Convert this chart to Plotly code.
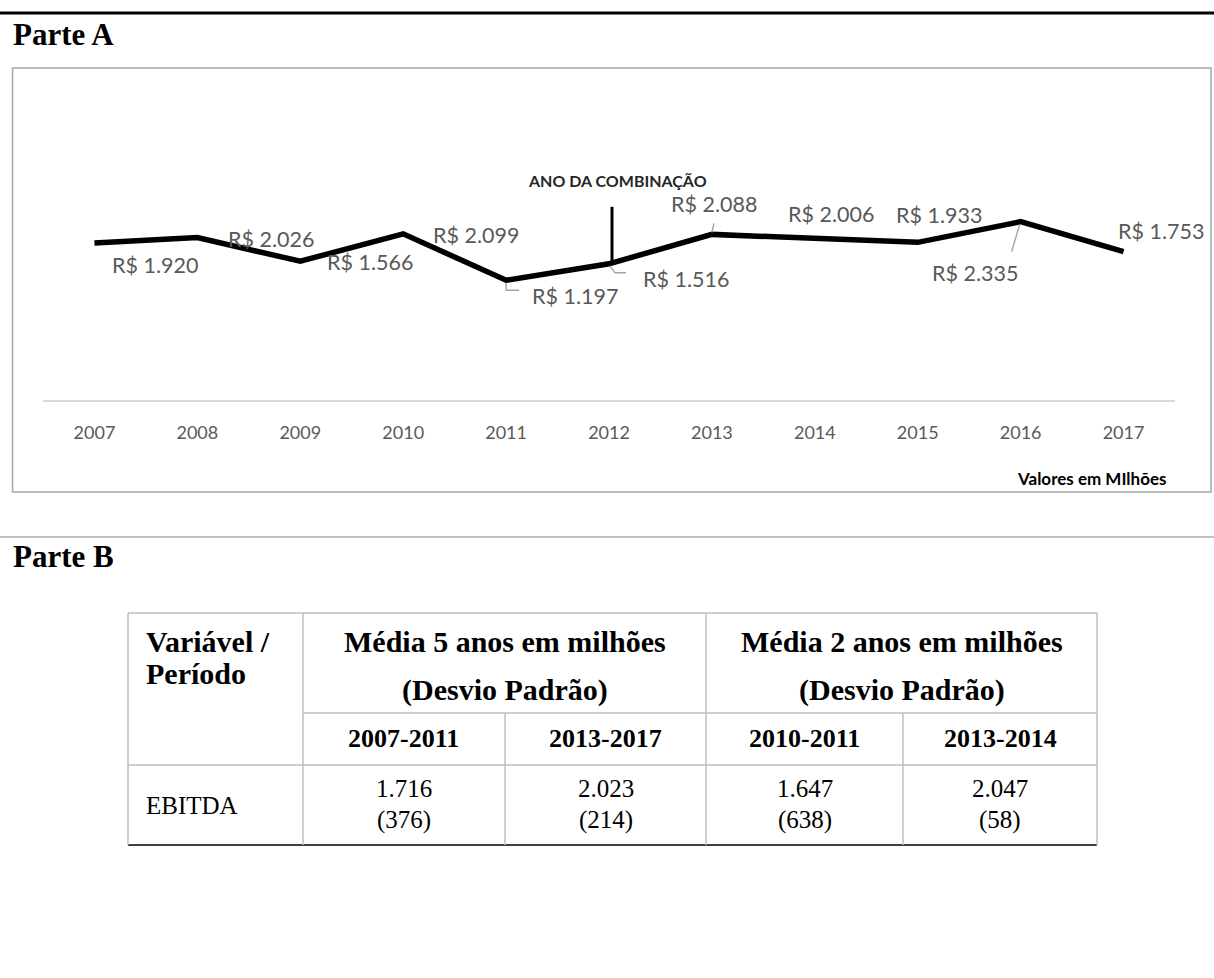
import plotly.graph_objects as go

# ---------------- data ----------------
years = [2007, 2008, 2009, 2010, 2011, 2012, 2013, 2014, 2015, 2016, 2017]
ebitda = [1920, 2026, 1566, 2099, 1197, 1516, 2088, 2006, 1933, 2335, 1753]
event_year = 2012
event_label = "ANO DA COMBINAÇÃO"
unit_note = "Valores em MIlhões"

table_col0_header = ["Variável /", "Período"]
table_group_headers = ["Média 5 anos em milhões", "Média 2 anos em milhões"]
table_group_sub = "(Desvio Padrão)"
table_periods = ["2007-2011", "2013-2017", "2010-2011", "2013-2014"]
table_variable = "EBITDA"
table_means = ["1.716", "2.023", "1.647", "2.047"]
table_stds = ["(376)", "(214)", "(638)", "(58)"]

# ---------------- geometry helpers ----------------
W, H = 1214, 978
def px(x):
    return x / W
def py(y):
    return 1 - y / H

SERIF = "Liberation Serif"
SANS = "Lato"
GREY_TXT = "#595959"

fig = go.Figure()
fig.add_trace(go.Scatter(
    x=years, y=ebitda, mode="lines",
    line=dict(color="black", width=5.5, shape="linear"),
    hoverinfo="x+y", showlegend=False,
))

# data-label offsets (pixel shifts from the point) -- style only
label_shift = {
    2007: (61, -22), 2008: (74, -1), 2009: (70, -1), 2010: (73, -1),
    2011: (69, -16), 2012: (77, -15), 2013: (2, 30), 2014: (16, 25),
    2015: (21, 27), 2016: (-46, -51), 2017: (37, 21),
}
annotations = []
for yr, v in zip(years, ebitda):
    dx, dy = label_shift[yr]
    annotations.append(dict(
        x=yr, y=v, xref="x", yref="y", text=f"R$ {v/1000:.3f}",
        showarrow=False, xshift=dx, yshift=dy,
        font=dict(family=SANS, size=21.5, color=GREY_TXT),
    ))

# leader lines (pixel paths anchored at data points)
leaders = {
    2011: "M 0 -3 L 0 -10 L 13 -10",
    2012: "M 1 -2 L 6 -9 L 17 -9",
    2013: "M 0 2 L 2 11",
    2016: "M -1 -3 L -9 -30",
}
shapes = []
for yr, v in zip(years, ebitda):
    if yr in leaders:
        shapes.append(dict(
            type="path", xref="x", yref="y", xsizemode="pixel", ysizemode="pixel",
            xanchor=yr, yanchor=v, path=leaders[yr],
            line=dict(color="#a6a6a6", width=1.5),
        ))

# event marker line
ev_val = ebitda[years.index(event_year)]
shapes.append(dict(
    type="line", xref="x", yref="y", xsizemode="pixel", ysizemode="pixel",
    xanchor=event_year, yanchor=ev_val, x0=3, x1=3, y0=0, y1=57,
    line=dict(color="black", width=3),
))
annotations.append(dict(
    x=event_year, xref="x", y=py(181), yref="paper", text=f"<b>{event_label}</b>",
    showarrow=False, xanchor="center", yanchor="middle", xshift=8,
    font=dict(family=SANS, size=16, color="#262626"),
))
annotations.append(dict(
    x=px(1168), y=py(478), xref="paper", yref="paper", text=f"<b>{unit_note}</b>",
    showarrow=False, xanchor="right", yanchor="middle",
    font=dict(family=SANS, size=17, color="black"),
))

# ---------------- page decorations ----------------
shapes += [
    dict(type="line", xref="paper", yref="paper", x0=0, x1=1, y0=py(13), y1=py(13),
         line=dict(color="black", width=3)),
    dict(type="rect", xref="paper", yref="paper", x0=px(12.5), x1=px(1211), y0=py(492), y1=py(68),
         line=dict(color="#a6a6a6", width=1.5)),
    dict(type="line", xref="paper", yref="paper", x0=0, x1=1, y0=py(537), y1=py(537),
         line=dict(color="#c0c0c0", width=2)),
]
annotations += [
    dict(x=px(11), y=py(35), xref="paper", yref="paper", text="<b>Parte A</b>",
         showarrow=False, xanchor="left", yanchor="middle",
         font=dict(family=SERIF, size=31, color="black")),
    dict(x=px(11), y=py(556), xref="paper", yref="paper", text="<b>Parte B</b>",
         showarrow=False, xanchor="left", yanchor="middle",
         font=dict(family=SERIF, size=31, color="black")),
]

# ---------------- table (Parte B) ----------------
TL, TR = 128, 1097
cols = [128, 303, 505, 706, 903, 1097]
rows = [613, 713, 765, 845]
TG = "#bfbfbf"
def hline(y, x0, x1, color=TG, w=1.5):
    shapes.append(dict(type="line", xref="paper", yref="paper", x0=px(x0), x1=px(x1),
                       y0=py(y), y1=py(y), line=dict(color=color, width=w)))
def vline(x, y0, y1, color=TG, w=1.5):
    shapes.append(dict(type="line", xref="paper", yref="paper", x0=px(x), x1=px(x),
                       y0=py(y0), y1=py(y1), line=dict(color=color, width=w)))
hline(rows[0], TL, TR)
hline(rows[1], cols[1], TR)
hline(rows[2], TL, TR)
hline(rows[3], TL, TR, color="black", w=1.5)
for x in [cols[0], cols[1], cols[3], cols[5]]:
    vline(x, rows[0], rows[3])
for x in [cols[2], cols[4]]:
    vline(x, rows[1], rows[3])

def txt(x, y, s, bold=False, anchor="center", size=27):
    annotations.append(dict(
        x=px(x), y=py(y), xref="paper", yref="paper",
        text=f"<b>{s}</b>" if bold else s, showarrow=False,
        xanchor=anchor, yanchor="middle",
        font=dict(family=SERIF, size=size, color="black")))

txt(144, 641, table_col0_header[0], True, "left", size=30)
txt(144, 673, table_col0_header[1], True, "left", size=30)
for gi, gh in enumerate(table_group_headers):
    cx = (cols[1 + 2 * gi] + cols[3 + 2 * gi]) / 2
    txt(cx, 641, gh, True, size=30)
    txt(cx, 690, table_group_sub, True, size=30)
for i, per in enumerate(table_periods):
    cx = (cols[1 + i] + cols[2 + i]) / 2
    txt(cx, 738, per, True, size=26)
    txt(cx, 788, table_means[i], size=25)
    txt(cx, 820, table_stds[i], size=25)
txt(144, 805, table_variable, False, "left", size=25)

# ---------------- layout ----------------
fig.update_layout(
    width=W, height=H, margin=dict(l=0, r=0, t=0, b=0),
    paper_bgcolor="white", plot_bgcolor="white",
    showlegend=False,
    xaxis=dict(
        domain=[px(43), px(1175)], range=[2006.5, 2017.5],
        tickmode="array", tickvals=years, ticktext=[str(y) for y in years],
        showgrid=False, zeroline=False, showline=True, linecolor="#d9d9d9", linewidth=2,
        ticks="", ticklabelstandoff=15,
        tickfont=dict(family=SANS, size=18, color=GREY_TXT),
    ),
    yaxis=dict(
        domain=[py(400), py(180)], range=[-1128, 3144],
        showgrid=False, zeroline=False, showline=False, showticklabels=False, ticks="",
    ),
    shapes=shapes, annotations=annotations,
)

fig.write_html("out.html")
